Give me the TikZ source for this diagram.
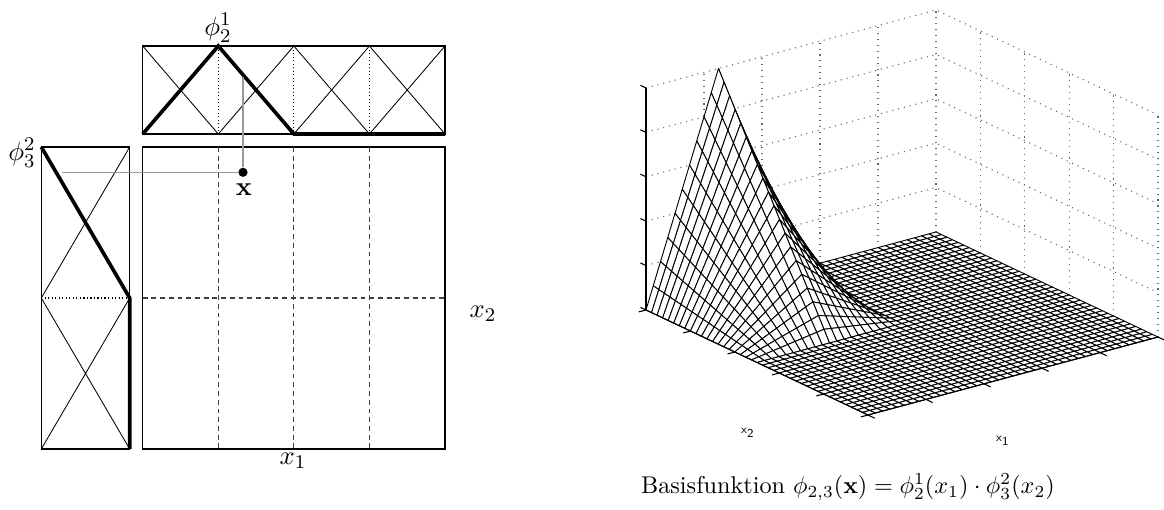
\documentclass[tikz,border=0pt]{standalone}
\usepackage{amsmath}
\usepackage{tikz}
\usetikzlibrary{calc}

\begin{document}
\begin{tikzpicture}[x=0.413pt,y=-0.413pt,line width=0.4pt]
  \tikzset{frame/.style={draw=black,line width=0.45pt},
    cross/.style={draw=black,line width=0.35pt},
    hat/.style={draw=black,line width=1.5pt,line join=miter},
    cellline/.style={draw=black!75,line width=0.45pt,dash pattern=on 2pt off 1.6pt},
    knot/.style={draw=black,line width=0.45pt,densely dotted},
    guide/.style={draw=black!40,line width=0.45pt},
    dot/.style={circle,fill=black,inner sep=0pt,minimum size=3.8pt},
    wall/.style={draw=black!60,line width=0.45pt,dotted},
    axisline/.style={draw=black,line width=0.45pt},
    patch/.style={draw=black,fill=white,line width=0.38pt,line join=round},
    biglabel/.style={font=\fontsize{11}{13}\selectfont},
    smalllabel/.style={font=\sffamily\fontsize{5}{6}\selectfont}}
  \useasboundingbox (0,0) rectangle (1164,509);

  % 1D hat functions in x1 (top strip)
  \draw[frame] (142.7,46) rectangle (445,134);
  \foreach \k in {0,...,3} {
    \pgfmathsetmacro\xa{142.7+75.575*\k}
    \pgfmathsetmacro\xb{\xa+75.575}
    \draw[cross] (\xa,46) -- (\xb,134) (\xa,134) -- (\xb,46);
  }
  \foreach \xk in {218.3,293.9,369.4}
    \draw[knot] (\xk,46) -- (\xk,134);
  \draw[hat] (142.7,134) -- (218.3,46) -- (293.9,134) -- (445,134);

  % 1D hat functions in x2 (left strip)
  \draw[frame] (41.3,147) rectangle (129.7,449);
  \draw[cross] (41.3,147) -- (129.7,298) (129.7,147) -- (41.3,298);
  \draw[cross] (41.3,298) -- (129.7,449) (129.7,298) -- (41.3,449);
  \draw[knot] (41.3,298) -- (129.7,298);
  \draw[hat] (41.3,147) -- (129.7,298) -- (129.7,449);

  % tensor grid
  \draw[frame] (142.7,147) rectangle (445,449);
  \foreach \xk in {218.3,293.9,369.4}
    \draw[cellline] (\xk,147) -- (\xk,449);
  \draw[cellline] (142.7,298) -- (445,298);

  \node[dot] (pt) at (243,172.3) {};
  \coordinate (hv) at (243,76.5);
  \coordinate (hh) at (61.7,172.3);
  \draw[guide] (hv) -- (pt);
  \draw[guide] (hh) -- (pt);

  \node[biglabel] (phione) at (218,28) {$\phi_2^1$};
  \node[biglabel] (phitwo) at (22,153) {$\phi_3^2$};
  \node[biglabel] (xlab) at (244,190) {$\mathbf{x}$};
  \node[biglabel] (xone) at (293,461) {$x_1$};
  \node[biglabel] (xtwo) at (483,314) {$x_2$};

  % surface plot of phi_{2,3}
  \begin{scope}[shift={(868,415)},x={(119.77pt,32.21pt)},y={(-91.69pt,43.37pt)},z={(0pt,91.69pt)}]
    \foreach \t in {0.2,0.4,0.6,0.8,1}
      \draw[wall] (\t,1,0) -- (\t,1,1);
    \foreach \t in {0,0.2,0.4,0.6,0.8}
      \draw[wall] (1,\t,0) -- (1,\t,1);
    \foreach \h in {0.2,0.4,0.6,0.8,1}
      \draw[wall] (0,1,\h) -- (1,1,\h) -- (1,0,\h);

    \foreach \i in {39,38,...,0} {
      \foreach \j in {39,38,...,0} {
        \pgfmathsetmacro\ua{max(0,1-abs(\i-10)/10)}
        \pgfmathsetmacro\ub{max(0,1-abs(\i-9)/10)}
        \pgfmathsetmacro\va{max(0,(\j-20)/20)}
        \pgfmathsetmacro\vb{max(0,(\j-19)/20)}
        \filldraw[patch] ({\i/40},{\j/40},{\ua*\va}) -- ({(\i+1)/40},{\j/40},{\ub*\va})
          -- ({(\i+1)/40},{(\j+1)/40},{\ub*\vb}) -- ({\i/40},{(\j+1)/40},{\ua*\vb}) -- cycle;
      }
    }

    \draw[axisline] (0,1,0) -- (0,1,1);
    \draw[axisline] (0,0,0) -- (0,1,0);
    \draw[axisline] (0,0,0) -- (1,0,0);
    \foreach \t in {0,0.2,0.4,0.6,0.8,1} {
      \draw[axisline] (0,1,\t) -- (0,1.025,\t);
      \draw[axisline] (0,\t,0) -- (-0.025,\t,0);
      \draw[axisline] (\t,0,0) -- (\t,-0.03,0);
    }
  \end{scope}

  \node[smalllabel] (xtwosmall) at (748,433) {x\textsubscript{2}};
  \node[smalllabel] (xonesmall) at (1003,441) {x\textsubscript{1}};
  \node (caption) at (848,487) {Basisfunktion $\phi_{2,3}(\mathbf{x}) = \phi_2^1(x_1)\cdot\phi_3^2(x_2)$};
\end{tikzpicture}
\end{document}
